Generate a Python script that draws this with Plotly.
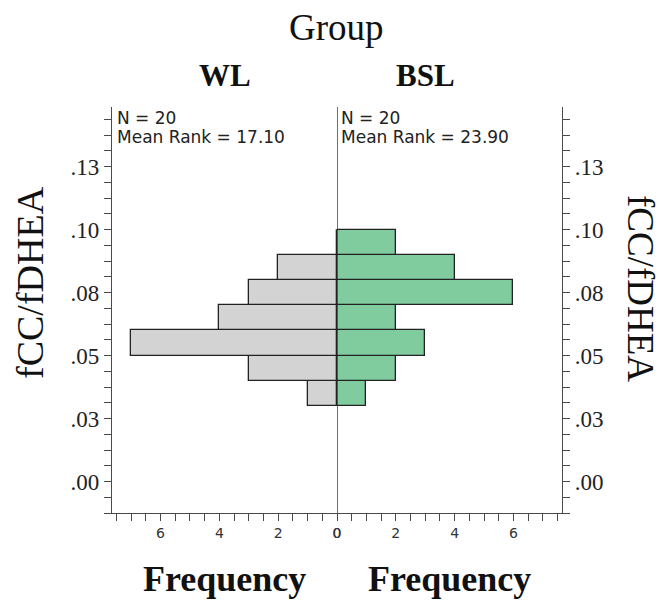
import plotly.graph_objects as go

# ---- data ----
bin_centers = [0.035, 0.045, 0.055, 0.065, 0.075, 0.085, 0.095]
wl_counts = [1, 3, 7, 4, 3, 2, 0]
bsl_counts = [1, 2, 3, 2, 6, 4, 2]
bin_width = 0.01
y_tickvals = [0.0, 0.025, 0.05, 0.075, 0.1, 0.125]
y_ticktext = [".00", ".03", ".05", ".08", ".10", ".13"]
x_tickvals = [0, 2, 4, 6]
groups = ["WL", "BSL"]
stats_n = [20, 20]
stats_rank = ["17.10", "23.90"]

W, H = 662, 603
L, R, T, B = 112, 562, 107, 513

def px(x):
    return (x - L) / (R - L)

def py(y):
    return (B - y) / (B - T)

SERIF = "Liberation Serif, Times New Roman, serif"
SANS = "DejaVu Sans, sans-serif"
AX = "#4a4a4a"

fig = go.Figure()
fig.add_trace(go.Bar(
    y=bin_centers, x=wl_counts, orientation="h", width=bin_width,
    marker=dict(color="#d3d3d3", line=dict(color="#222222", width=1.3)),
    xaxis="x", yaxis="y", showlegend=False, hoverinfo="skip"))
fig.add_trace(go.Bar(
    y=bin_centers, x=bsl_counts, orientation="h", width=bin_width,
    marker=dict(color="#80cc9f", line=dict(color="#222222", width=1.3)),
    xaxis="x2", yaxis="y2", showlegend=False, hoverinfo="skip"))

xcommon = dict(
    showgrid=False, zeroline=False, showline=True, linecolor=AX, linewidth=1.2,
    ticks="outside", ticklen=7, tickcolor=AX, tickwidth=1,
    tickvals=x_tickvals, tickfont=dict(family=SANS, size=14, color="#333"),
    minor=dict(dtick=0.5, tick0=0, ticks="outside", ticklen=7, tickcolor=AX, tickwidth=1, showgrid=False),
    fixedrange=True,
)
ycommon = dict(
    range=[-0.0125, 0.1487], showgrid=False, zeroline=False, showline=True,
    linecolor=AX, linewidth=1.2, ticks="outside", ticklen=7, tickcolor=AX, tickwidth=1,
    tickvals=y_tickvals, ticktext=y_ticktext,
    tickfont=dict(family=SERIF, size=23, color="#222"),
    minor=dict(dtick=0.00625, tick0=0, ticks="outside", ticklen=7, tickcolor=AX, tickwidth=1, showgrid=False),
    fixedrange=True,
)

fig.update_layout(
    width=W, height=H,
    margin=dict(l=L, r=W - R, t=T, b=H - B),
    paper_bgcolor="white", plot_bgcolor="white",
    bargap=0,
    xaxis=dict(domain=[0, 0.5], range=[7.65, 0], anchor="y", **xcommon),
    xaxis2=dict(domain=[0.5, 1], range=[0, 7.65], anchor="y2", **xcommon),
    yaxis=dict(anchor="x", side="left", **ycommon),
    yaxis2=dict(anchor="x2", side="right", **ycommon),
    shapes=[dict(type="line", xref="x2", yref="paper", x0=0, x1=0, y0=0, y1=1,
                 line=dict(color="#222222", width=1.3), layer="above")],
)

ann = []
def add_text(text, x, y, size, family=SERIF, bold=False, angle=0, xanchor="center", color="#111"):
    t = f"<b>{text}</b>" if bold else text
    ann.append(dict(text=t, x=px(x), y=py(y), xref="paper", yref="paper",
                    xanchor=xanchor, yanchor="middle", showarrow=False, textangle=angle,
                    font=dict(family=family, size=size, color=color)))

add_text("Group", 336, 27, 37)
add_text(groups[0], 225, 76, 31, bold=True)
add_text(groups[1], 425, 76, 31, bold=True)
add_text("Frequency", 224, 579, 36, bold=True)
add_text("Frequency", 449, 579, 36, bold=True)
add_text("fCC/fDHEA", 30, 283, 38, angle=-90)
add_text("fCC/fDHEA", 641, 288, 37, angle=90)
add_text(f"N = {stats_n[0]}", 115, 118, 17, family=SANS, xanchor="left", color="#222")
add_text(f"Mean Rank = {stats_rank[0]}", 115, 137, 17, family=SANS, xanchor="left", color="#222")
add_text(f"N = {stats_n[1]}", 339, 118, 17, family=SANS, xanchor="left", color="#222")
add_text(f"Mean Rank = {stats_rank[1]}", 339, 137, 17, family=SANS, xanchor="left", color="#222")
fig.update_layout(annotations=ann)

fig.write_html(
    "out.html",
    config={"displayModeBar": False},
    post_script="document.body.style.margin='0';document.body.style.overflow='hidden';",
)
